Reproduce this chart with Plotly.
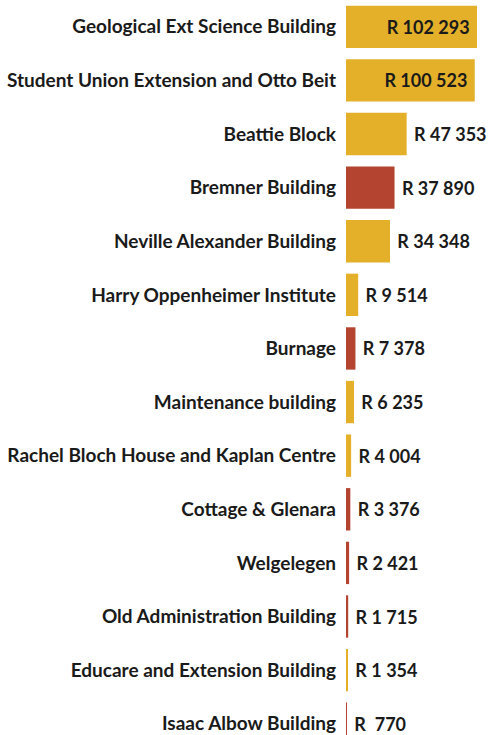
import plotly.graph_objects as go

buildings = [
    "Geological Ext Science Building",
    "Student Union Extension and Otto Beit",
    "Beattie Block",
    "Bremner Building",
    "Neville Alexander Building",
    "Harry Oppenheimer Institute",
    "Burnage",
    "Maintenance building",
    "Rachel Bloch House and Kaplan Centre",
    "Cottage & Glenara",
    "Welgelegen",
    "Old Administration Building",
    "Educare and Extension Building",
    "Isaac Albow Building",
]
values = [102293, 100523, 47353, 37890, 34348, 9514, 7378, 6235, 4004, 3376, 2421, 1715, 1354, 770]
groups = ["gold", "gold", "gold", "red", "gold", "gold", "red", "gold", "gold",
          "red", "red", "red", "gold", "red"]
value_labels = ["R 102 293", "R 100 523", "R 47 353", "R 37 890", "R 34 348", "R 9 514",
                "R 7 378", "R 6 235", "R 4 004", "R 3 376", "R 2 421", "R 1 715",
                "R 1 354", "R\u00a0\u00a0770"]

palette = {"gold": "#E4B02A", "red": "#B4432F"}
colors = [palette[g] for g in groups]

positions = ["inside" if v > 60000 else "outside" for v in values]
texts = [(t + "\u00a0") if p == "inside" else ("\u00a0" + t)
         for t, p in zip(value_labels, positions)]

fig = go.Figure(go.Bar(
    x=values,
    y=buildings,
    orientation="h",
    marker=dict(color=colors, line=dict(width=0)),
    text=texts,
    textposition=positions,
    insidetextanchor="end",
    textfont=dict(family="Lato", size=18, color="#1a1a1a", weight="bold"),
    cliponaxis=False,
    width=0.79,
    hoverinfo="skip",
))

fig.update_layout(
    width=492,
    height=735,
    margin=dict(l=346, r=0, t=0, b=0),
    paper_bgcolor="white",
    plot_bgcolor="white",
    showlegend=False,
    font=dict(family="Lato", size=19, color="#1a1a1a"),
    xaxis=dict(range=[0, 114000], visible=False, fixedrange=True),
    yaxis=dict(
        categoryorder="array",
        categoryarray=buildings,
        range=[13.21, -0.5],
        showgrid=False,
        zeroline=False,
        showline=False,
        ticks="",
        ticklabelstandoff=9,
        tickfont=dict(family="Lato", size=19, color="#1a1a1a", weight="bold"),
        automargin=False,
        fixedrange=True,
    ),
)

fig.write_html(
    "out.html",
    config={"displayModeBar": False},
    post_script="document.body.style.margin='0';document.body.style.overflow='hidden';",
)
